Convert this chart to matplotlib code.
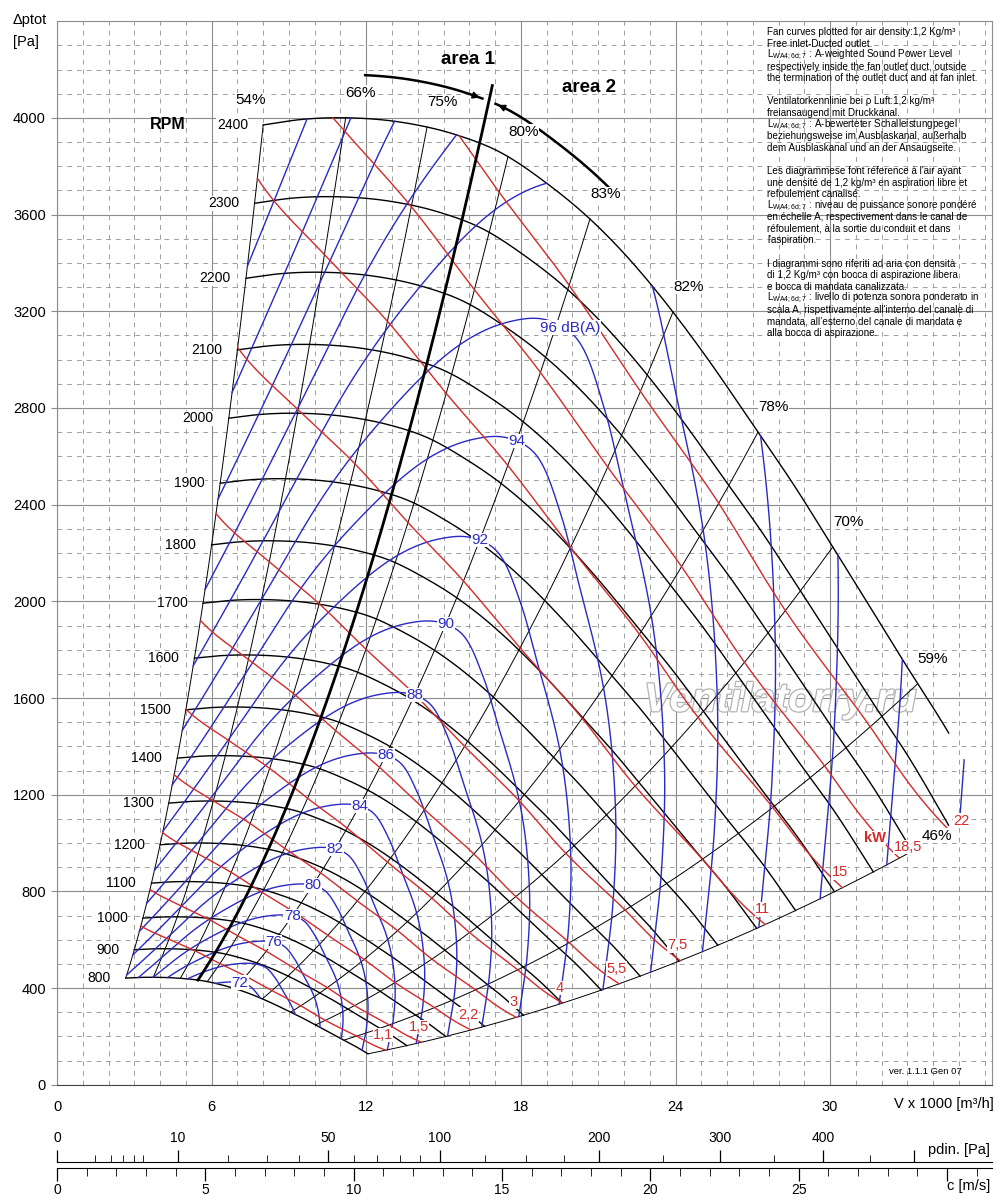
import numpy as np
import matplotlib
matplotlib.use('Agg')
import matplotlib.pyplot as plt
import matplotlib.ticker as ticker
import matplotlib.patheffects as pe

plt.rcParams['font.family'] = ['Liberation Sans', 'DejaVu Sans']
plt.rcParams['mathtext.fontset'] = 'custom'
plt.rcParams['mathtext.rm'] = 'Liberation Sans'

# 2400 rpm fan curve: flow (x1000 m3/h) and total pressure (Pa)
base_flow = [8.0, 9.5, 11.5, 13.5, 15.5, 17.2, 19.0, 20.7, 22.0, 23.4, 25.0, 27.2, 28.6, 30.1, 31.5, 32.8, 34.6, 36.2]
base_pres = [3971, 3994, 4000, 3980, 3930, 3858, 3730, 3580, 3440, 3265, 3040, 2700, 2480, 2225, 1985, 1760, 1455, 1150]

rpm = [800, 900, 1000, 1100, 1200, 1300, 1400, 1500, 1600, 1700, 1800, 1900, 2000, 2100, 2200, 2300, 2400]
rpm_end_flow = [36.2, 36.2, 36.2, 36.2, 36.2, 36.2, 36.2, 36.2, 36.2, 36.2, 36.2, 36.2, 36.2, 36.2, 36.2, 36.1, 34.6]

# efficiency lines: point on the 2400 rpm curve, efficiency %, highest rpm reached
eff_flow = [8.0, 11.2, 14.36, 17.5, 20.68, 23.9, 27.2, 30.1, 33.4, 36.2]
eff_pct = [54, 66, 75, 80, 83, 82, 78, 70, 59, 46]
eff_top_rpm = [2400, 2400, 2400, 2400, 2400, 2400, 2400, 2400, 2400, 2200]

# sound power along the 2400 rpm curve, dB(A)
noise_flow = [8.0, 9.7, 11.4, 13.1, 15.5, 19.0, 20.3, 21.5, 23.1, 24.6, 27.3, 30.3, 32.8, 35.2, 36.2]
noise_db = [107.9, 106.0, 104.0, 102.0, 100.0, 98.0, 97.6, 97.5, 98.0, 98.7, 100.0, 102.0, 104.0, 106.0, 106.8]
db_levels = [72, 74, 76, 78, 80, 82, 84, 86, 88, 90, 92, 94, 96, 98, 100, 102, 104, 106]
db_labelled = [72, 76, 78, 80, 82, 84, 86, 88, 90, 92, 94, 96]

kw_levels = [1.1, 1.5, 2.2, 3, 4, 5.5, 7.5, 11, 15, 18.5, 22]
kw_text = ['1,1', '1,5', '2,2', '3', '4', '5,5', '7,5', '11', '15', '18,5', '22']

area_flow = 16.4

pdin_major = [0, 10, 50, 100, 200, 300, 400, 500]
pdin_major_text = ['0', '10', '50', '100', '200', '300', '400', '']
pdin_minor = [1, 2, 3, 4, 5, 20, 30, 40, 60, 70, 80, 90, 125, 150, 175, 250, 350, 450]
c_major = [0, 5, 10, 15, 20, 25, 30]
c_major_text = ['0', '5', '10', '15', '20', '25', '']

BLUE = '#2a2ac4'
RED = '#d42a2a'
N_MAX = 2400
R_MIN = rpm[0] / N_MAX
V_MAX = 36.28
C_PER_V = 0.8686


def smooth(xq, xs, ys):
    xs = np.asarray(xs, float)
    ys = np.asarray(ys, float)
    m = np.gradient(ys, xs)
    xq = np.asarray(xq, float)
    i = np.clip(np.searchsorted(xs, xq) - 1, 0, len(xs) - 2)
    h = xs[i + 1] - xs[i]
    t = (xq - xs[i]) / h
    return ((2 * t**3 - 3 * t**2 + 1) * ys[i] + (t**3 - 2 * t**2 + t) * h * m[i]
            + (-2 * t**3 + 3 * t**2) * ys[i + 1] + (t**3 - t**2) * h * m[i + 1])


def pres24(x):
    return smooth(x, base_flow, base_pres)


xs = np.linspace(base_flow[0], base_flow[-1], 3000)


def contour(r):
    ok = (r >= R_MIN) & (r <= 1.0)
    grow = ok.copy()
    grow[1:] |= ok[:-1]
    grow[:-1] |= ok[1:]
    rc = np.clip(r, R_MIN, 1.0)
    v = xs * rc
    p = pres24(xs) * rc**2
    v[~grow] = np.nan
    p[~grow] = np.nan
    return v, p


fig = plt.figure(figsize=(10, 12.04), dpi=100, facecolor='white')
ax = fig.add_axes([0.057, 1 - 1084.7 / 1204, 0.935, (1084.7 - 21.3) / 1204])
ax.set_xlim(0, V_MAX)
ax.set_ylim(0, 4400)
ax.xaxis.set_major_locator(ticker.FixedLocator([0, 6, 12, 18, 24, 30]))
ax.xaxis.set_minor_locator(ticker.MultipleLocator(1))
ax.yaxis.set_major_locator(ticker.FixedLocator(list(range(0, 4001, 400))))
ax.yaxis.set_minor_locator(ticker.MultipleLocator(100))
ax.grid(which='major', color='#8c8c8c', lw=0.8)
ax.grid(which='minor', color='#a0a0a0', lw=0.7, linestyle=(0, (5, 5)))
ax.set_axisbelow(True)
for s in ax.spines.values():
    s.set_color('#8c8c8c')
    s.set_linewidth(0.8)
ax.spines['bottom'].set_color('#444444')
ax.tick_params(axis='y', which='major', length=4, color='#8c8c8c', pad=4, labelsize=10.5)
ax.tick_params(axis='x', which='major', length=0, pad=11, labelsize=10.5)
ax.tick_params(which='minor', length=0)

# rpm curves
for n, xe in zip(rpm, rpm_end_flow):
    r = n / N_MAX
    x = np.linspace(base_flow[0], xe, 300)
    ax.plot(x * r, pres24(x) * r**2, color='black', lw=1.0, zorder=3)
    ax.annotate(str(n), (base_flow[0] * r, pres24(base_flow[0]) * r**2), xytext=(-11, 0),
                textcoords='offset points', ha='right', va='center', fontsize=10,
                bbox=dict(fc='white', ec='none', pad=0.4), zorder=7)

# efficiency lines
for xe, pct, top in zip(eff_flow, eff_pct, eff_top_rpm):
    r = np.linspace(R_MIN, top / N_MAX, 200)
    v = xe * r
    p = pres24(xe) * r**2
    ax.plot(v, p, color='black', lw=0.7, zorder=3)
    off = {54: (-9, 18), 46: (18, 11)}.get(pct, (11, 18))
    ax.annotate(f'{pct}%', (v[-1], p[-1]), xytext=off, textcoords='offset points',
                ha='center', va='center', fontsize=11,
                bbox=dict(fc='white', ec='none', pad=0.3), zorder=7)

# sound power lines
L24 = smooth(xs, noise_flow, noise_db)
for L in db_levels:
    v, p = contour(10 ** ((L - L24) / 55))
    ax.plot(v, p, color=BLUE, lw=1.0, zorder=3)
L_lab = smooth(eff_flow[4], noise_flow, noise_db)
for L in db_labelled:
    r = 10 ** ((L - L_lab) / 55)
    v = eff_flow[4] * r
    p = pres24(eff_flow[4]) * r**2
    txt = f'{L} dB(A)' if L == 96 else str(L)
    off = (10, -3) if L == 96 else (0, 0)
    ax.annotate(txt, (v, p), xytext=off, textcoords='offset points', ha='center', va='center',
                fontsize=11, color=BLUE, bbox=dict(fc='white', ec='none', pad=0.2), zorder=8)

# power lines
eta = smooth(xs, eff_flow, eff_pct) / 100
pw24 = xs / 3.6 * pres24(xs) / eta / 1000
for kw, txt in zip(kw_levels, kw_text):
    v, p = contour((kw / pw24) ** (1 / 3))
    ax.plot(v, p, color=RED, lw=1.0, zorder=3)
    k = np.where(~np.isnan(v))[0][-1]
    off = {'18,5': (6, 8), '22': (9, 7)}.get(txt, (-2, 11))
    ax.annotate(txt, (v[k], p[k]), xytext=off, textcoords='offset points', ha='center',
                va='center', fontsize=10.5, color=RED,
                bbox=dict(fc='white', ec='none', pad=0.2), zorder=8)
ax.text(31.75, 1021, 'kW', color=RED, fontsize=10.5, fontweight='bold', ha='center', va='center',
        bbox=dict(fc='white', ec='none', pad=0.2), zorder=8)

# area 1 / area 2 border and arrow
r = np.linspace(R_MIN, 1.03, 200)
ax.plot(area_flow * r, pres24(area_flow) * r**2, color='black', lw=2.0, zorder=4)
r_arc = 1.022
for x0, x1 in [(11.7, 16.15), (21.0, 16.65)]:
    x = np.linspace(x0, x1, 100)
    ax.plot(x * r_arc, pres24(x) * r_arc**2, color='black', lw=1.8, zorder=4)
    ax.annotate('', xy=(x[-1] * r_arc, pres24(x[-1]) * r_arc**2),
                xytext=(x[-8] * r_arc, pres24(x[-8]) * r_arc**2),
                arrowprops=dict(arrowstyle='-|>', color='black', lw=1.2, mutation_scale=10), zorder=5)

ax.text(15.95, 4240, 'area 1', fontsize=13.5, fontweight='bold', ha='center', va='center', zorder=7)
ax.text(20.65, 4128, 'area 2', fontsize=13.5, fontweight='bold', ha='center', va='center', zorder=7)
ax.text(4.3, 3971, 'RPM', fontsize=11.5, fontweight='bold', ha='center', va='center', zorder=7)

ax.text(28.06, 1591, 'Ventilatorry.ru', fontsize=29, fontweight='bold', style='italic',
        color='white', ha='center', va='center', zorder=1,
        path_effects=[pe.withStroke(linewidth=1.8, foreground='#b4b4b4')])

notes = [
    'Fan curves plotted for air density:1,2 Kg/m³',
    'Free inlet-Ducted outlet.',
    r'L$_{\rm WA4;6d;7}$ : A-weighted Sound Power Level',
    'respectively inside the fan outlet duct, outside',
    'the termination of the outlet duct and at fan inlet.',
    '',
    'Ventilatorkennlinie bei ρ Luft:1,2 kg/m³',
    'freiansaugend mit Druckkanal.',
    r'L$_{\rm WA4;6d;7}$ : A-bewerteter Schalleistungpegel',
    'beziehungsweise im Ausblaskanal, außerhalb',
    'dem Ausblaskanal und an der Ansaugseite.',
    '',
    "Les diagrammese font réference à l'air ayant",
    'une densité de 1,2 kg/m³ en aspiration libre et',
    'refoulement canalisé.',
    r'L$_{\rm WA4;6d;7}$ : niveau de puissance sonore pondéré',
    'en échelle A, respectivement dans le canal de',
    'réfoulement, à la sortie du conduit et dans',
    "l'aspiration.",
    '',
    'I diagrammi sono riferiti ad aria con densità',
    'di 1,2 Kg/m³ con bocca di aspirazione libera',
    'e bocca di mandata canalizzata.',
    r'L$_{\rm WA4;6d;7}$ : livello di potenza sonora ponderato in',
    "scala A, rispettivamente all'interno del canale di",
    'mandata, all’esterno del canale di mandata e',
    'alla bocca di aspirazione.',
]
for i, line in enumerate(notes):
    if line:
        fig.text(0.767, 1 - (32 + i * 11.58) / 1204, line, fontsize=7.1, ha='left', va='center')

fig.text(0.013, 1 - 20 / 1204, 'Δptot', fontsize=10.5, ha='left', va='center')
fig.text(0.013, 1 - 42 / 1204, '[Pa]', fontsize=10.5, ha='left', va='center')
fig.text(0.994, 1 - 1104 / 1204, 'V x 1000 [m³/h]', fontsize=10.5, ha='right', va='center')
fig.text(0.925, 1 - 1071 / 1204, 'ver. 1.1.1 Gen 07', fontsize=6.8, ha='center', va='center')


def to_c(pd):
    return np.sqrt(np.clip(pd, 0, None) / 0.6)


def from_c(c):
    return 0.6 * np.asarray(c) ** 2


c_max = V_MAX * C_PER_V

ax_p = fig.add_axes([0.057, 1 - 1162.3 / 1204, 0.935, 16.3 / 1204])
ax_p.set_xscale('function', functions=(to_c, from_c))
ax_p.set_xlim(0, float(from_c(c_max)))
ax_p.set_xticks(pdin_major)
ax_p.set_xticklabels(pdin_major_text)
ax_p.set_xticks(pdin_minor, minor=True)
ax_p.set_yticks([])
ax_p.patch.set_visible(False)
for side in ['top', 'left', 'right']:
    ax_p.spines[side].set_visible(False)
ax_p.spines['bottom'].set_linewidth(0.8)
ax_p.tick_params(which='both', bottom=True, top=False, labelbottom=False, labeltop=True, direction='in')
ax_p.tick_params(which='major', length=8.6, width=0.9, pad=1, labelsize=10)
ax_p.tick_params(which='minor', length=5, width=0.6)
ax_p.xaxis.set_minor_formatter(ticker.NullFormatter())

ax_c = fig.add_axes([0.057, 1 - 1180 / 1204, 0.935, 11.7 / 1204])
ax_c.set_xlim(0, c_max)
ax_c.set_xticks(c_major)
ax_c.set_xticklabels(c_major_text)
ax_c.xaxis.set_minor_locator(ticker.MultipleLocator(1))
ax_c.set_yticks([])
ax_c.patch.set_visible(False)
for side in ['bottom', 'left', 'right']:
    ax_c.spines[side].set_visible(False)
ax_c.spines['top'].set_linewidth(0.8)
ax_c.tick_params(which='both', bottom=False, top=True, labelbottom=True, labeltop=False, direction='in')
ax_c.tick_params(which='major', length=9.4, width=0.9, pad=2, labelsize=10)
ax_c.tick_params(which='minor', length=5.8, width=0.6)

fig.text(0.990, 1 - 1150 / 1204, 'pdin. [Pa]', fontsize=10.5, ha='right', va='center')
fig.text(0.990, 1 - 1186 / 1204, 'c [m/s]', fontsize=10.5, ha='right', va='center')

fig.savefig('out.png', dpi=100, facecolor='white')
